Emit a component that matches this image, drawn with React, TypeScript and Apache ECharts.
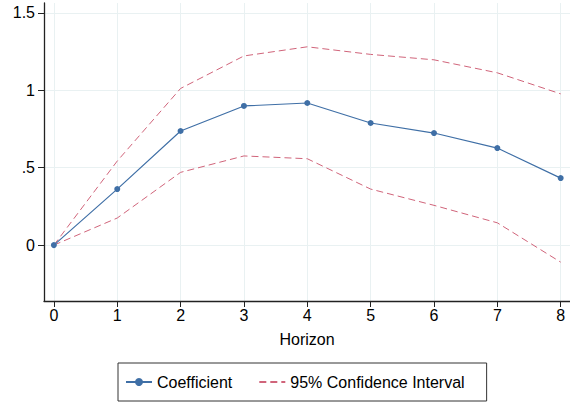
import React, { useEffect, useRef } from "react";
import * as echarts from "echarts";

const horizons = [0, 1, 2, 3, 4, 5, 6, 7, 8];
const coefficient = [0, 0.362, 0.737, 0.899, 0.918, 0.789, 0.724, 0.627, 0.433];
const upperCI = [0, 0.543, 1.012, 1.222, 1.281, 1.232, 1.197, 1.113, 0.977];
const lowerCI = [0, 0.175, 0.47, 0.576, 0.558, 0.362, 0.257, 0.144, -0.11];
const xTicks = [0, 1, 2, 3, 4, 5, 6, 7, 8];
const yTicks = [0, 0.5, 1, 1.5];

const FONT = "'Liberation Sans', Arial, Helvetica, sans-serif";
const BLUE = "#3f6fa6";
const RED = "#d0647a";
const GRID = "#e9f1f2";
const AXIS = "#222222";

function pairs(ys: number[]) {
  return horizons.map((h, i) => [h, ys[i]]);
}

export default function App() {
  const ref = useRef<HTMLDivElement>(null);
  useEffect(() => {
    if (!ref.current) return;
    const chart = echarts.init(ref.current, undefined, { renderer: "svg" });
    const ciStyle = { color: RED, width: 1, type: [7, 4] as any };
    chart.setOption({
      animation: false,
      backgroundColor: "#ffffff",
      textStyle: { fontFamily: FONT },
      grid: { left: 44, right: 0, top: 3, bottom: 105, containLabel: false },
      xAxis: {
        type: "value",
        min: -0.156,
        max: 8.147,
        name: "Horizon",
        nameLocation: "middle",
        nameGap: 30,
        nameTextStyle: { fontSize: 16, color: "#000", fontFamily: FONT },
        axisLine: { show: true, onZero: false, lineStyle: { color: AXIS, width: 1.3 } },
        axisTick: { show: true, length: 6, customValues: xTicks, lineStyle: { color: AXIS, width: 1 } },
        axisLabel: { customValues: xTicks, fontSize: 16, color: "#000", margin: 6, fontFamily: FONT },
        splitLine: { show: true, lineStyle: { color: GRID, width: 1 } },
      },
      yAxis: {
        type: "value",
        min: -0.361,
        max: 1.564,
        axisLine: { show: true, onZero: false, lineStyle: { color: AXIS, width: 1.3 } },
        axisTick: { show: true, length: 6, customValues: yTicks, lineStyle: { color: AXIS, width: 1 } },
        axisLabel: {
          customValues: yTicks,
          fontSize: 16,
          color: "#000",
          margin: 9,
          fontFamily: FONT,
          formatter: (v: number) => String(v).replace(/^0\./, ".").replace(/^-0\./, "-."),
        },
        splitLine: { show: true, lineStyle: { color: GRID, width: 1 } },
      },
      legend: {
        data: [
          { name: "Coefficient" },
          {
            name: "95% Confidence Interval",
            itemStyle: { color: "rgba(0,0,0,0)", borderWidth: 0, opacity: 0 },
          },
        ],
        left: 118,
        top: 363,
        orient: "horizontal",
        borderColor: "#333",
        borderWidth: 1,
        padding: [11, 22, 11, 7],
        itemWidth: 26,
        itemHeight: 10,
        itemGap: 26,
        itemTextGap: 13,
        textStyle: { fontSize: 16, color: "#000", fontFamily: FONT },
      },
      series: [
        {
          name: "95% Confidence Interval",
          type: "line",
          data: pairs(upperCI),
          symbol: "none",
          lineStyle: ciStyle,
          itemStyle: { color: RED },
        },
        {
          name: "95% Confidence Interval",
          type: "line",
          data: pairs(lowerCI),
          symbol: "none",
          lineStyle: ciStyle,
          itemStyle: { color: RED },
        },
        {
          name: "Coefficient",
          type: "line",
          data: pairs(coefficient),
          symbol: "circle",
          symbolSize: 6,
          lineStyle: { color: BLUE, width: 1.2 },
          itemStyle: { color: BLUE },
        },
      ],
    });
    return () => chart.dispose();
  }, []);
  return (
    <div
      ref={ref}
      style={{ position: "fixed", left: 0, top: 0, width: 570, height: 406, background: "#fff" }}
    />
  );
}
